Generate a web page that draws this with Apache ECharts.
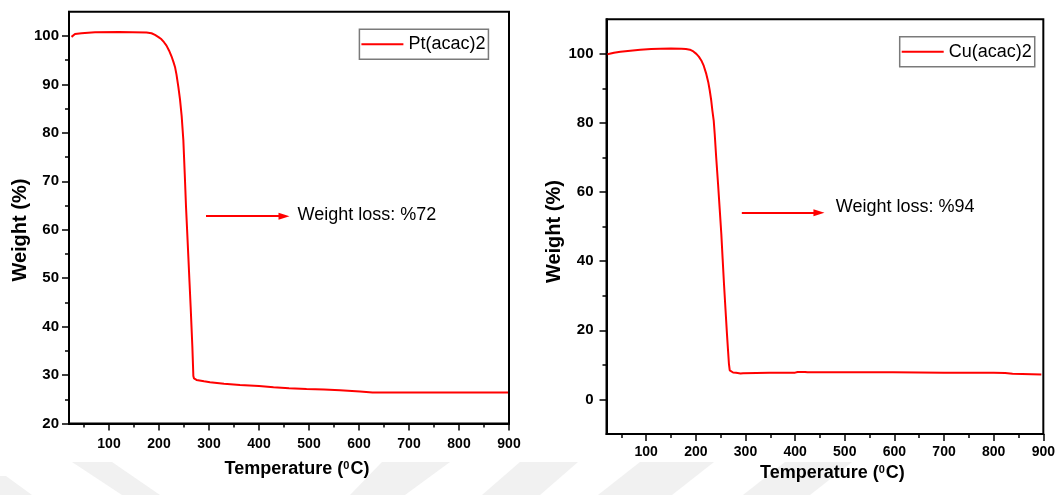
<!DOCTYPE html>
<html>
<head>
<meta charset="utf-8">
<title>TGA curves</title>
<script src="https://cdn.jsdelivr.net/npm/echarts@6/dist/echarts.min.js"></script>
<style>
  html, body { margin: 0; padding: 0; background: #ffffff; }
  #chart { width: 1058px; height: 495px; }
</style>
</head>
<body>
<div id="chart"></div>
<script>
// Thermogravimetric curve of Pt(acac)2: temperature (°C) and remaining weight (%)
const ptTemp = [25, 28, 32, 45, 72, 120, 175, 185, 192, 199, 205, 210, 215, 220, 225, 229, 232, 235,
  238.7, 242, 245.3, 248.7, 251.5, 254, 256.5, 258.7, 261, 263.3, 265, 266.7, 268, 268.7, 270, 275,
  290, 302, 330, 362, 400, 429, 460, 495, 530, 562, 602, 627, 700, 800, 898];
const ptWeight = [99.8, 100.2, 100.4, 100.55, 100.75, 100.8, 100.7, 100.55, 100.2, 99.75, 99.3, 98.7, 98.0, 97.0, 95.8, 94.6, 93.6, 92.0,
  89.5, 86.9, 83.5, 78.5, 71.5, 64.8, 59.3, 54.4, 49.2, 44.1, 40.0, 35.9, 32.0, 29.8, 29.3, 29.0,
  28.7, 28.5, 28.2, 27.95, 27.75, 27.5, 27.3, 27.1, 27.0, 26.85, 26.6, 26.4, 26.4, 26.4, 26.4];

// Thermogravimetric curve of Cu(acac)2
const cuTemp = [22, 35, 48, 68, 88, 110, 128, 150, 171, 180, 188, 195, 201, 206, 211, 216, 221, 225, 228,
  231, 233.3, 236, 238, 241, 244.7, 248, 251.3, 254, 256.7, 259.7, 262.7, 264.7, 266.7, 268.3, 270, 275,
  281, 290, 295, 348, 400, 405, 420, 425, 500, 597, 600, 700, 800, 823, 825, 838, 841, 896];
const cuWeight = [99.9, 100.3, 100.6, 100.9, 101.2, 101.4, 101.5, 101.55, 101.5, 101.4, 101.2, 100.7, 100.0, 99.2, 98.1, 96.5, 94.2, 91.8, 89.4,
  86.5, 83.6, 80.7, 76.8, 70.0, 62.4, 55.2, 47.9, 40.6, 33.4, 26.1, 18.9, 14.5, 10.2, 8.4, 8.0, 7.8,
  7.7, 7.5, 7.6, 7.7, 7.75, 7.95, 7.95, 7.85, 7.9, 7.9, 7.7, 7.7, 7.7, 7.65, 7.45, 7.45, 7.25, 7.25];

// Axis ticks
const tempTicks = [100, 200, 300, 400, 500, 600, 700, 800, 900];
const tempMinorTicks = [50, 150, 250, 350, 450, 550, 650, 750, 850];
const ptWeightTicks = [20, 30, 40, 50, 60, 70, 80, 90, 100];
const ptWeightMinorTicks = [25, 35, 45, 55, 65, 75, 85, 95];
const cuWeightTicks = [0, 20, 40, 60, 80, 100];
const cuWeightMinorTicks = [10, 30, 50, 70, 90];

// Series names and annotation texts
const ptName = 'Pt(acac)2';
const cuName = 'Cu(acac)2';
const ptLossText = 'Weight loss: %72';
const cuLossText = 'Weight loss: %94';

const FONT = "'Liberation Sans', Arial, Helvetica, sans-serif";
const RED = '#ff0000';
const BLACK = '#000000';

function pairs(xs, ys) {
  return xs.map((x, i) => [x, ys[i]]);
}

function majorX(gridIndex, labelMargin, nameGap, namePadLeft) {
  return {
    gridIndex, type: 'value', min: 20, max: 900, position: 'bottom',
    axisLine: { show: true, onZero: false, lineStyle: { color: BLACK, width: 2 } },
    axisTick: { show: true, customValues: tempTicks, length: 7, lineStyle: { color: BLACK, width: 1.5 } },
    axisLabel: { customValues: tempTicks, margin: labelMargin, color: BLACK, fontSize: 14, fontWeight: 'bold', fontFamily: FONT },
    splitLine: { show: false },
    name: 'Temperature ({sup|0}C)',
    nameLocation: 'middle',
    nameGap: nameGap,
    nameTextStyle: {
      fontSize: 18, fontWeight: 'bold', color: BLACK, fontFamily: FONT,
      padding: [0, 0, 0, namePadLeft],
      rich: { sup: { fontSize: 11, fontWeight: 'bold', color: BLACK, fontFamily: FONT, verticalAlign: 'top', padding: [0, 1, 0, 0] } }
    }
  };
}

function minorX(gridIndex) {
  return {
    gridIndex, type: 'value', min: 20, max: 900, position: 'bottom',
    axisLine: { show: false, onZero: false },
    axisTick: { show: true, customValues: tempMinorTicks, length: 4, lineStyle: { color: BLACK, width: 1.5 } },
    axisLabel: { show: false },
    splitLine: { show: false }
  };
}

function majorY(gridIndex, min, max, ticks, labelMargin, nameGap, namePadRight) {
  return {
    gridIndex, type: 'value', min, max, position: 'left',
    axisLine: { show: true, onZero: false, lineStyle: { color: BLACK, width: 2 } },
    axisTick: { show: true, customValues: ticks, length: 7, lineStyle: { color: BLACK, width: 1.5 } },
    axisLabel: { customValues: ticks, margin: labelMargin, color: BLACK, fontSize: 15, fontWeight: 'bold', fontFamily: FONT },
    splitLine: { show: false },
    name: 'Weight (%)',
    nameLocation: 'middle',
    nameGap: nameGap,
    nameTextStyle: { fontSize: 20, fontWeight: 'bold', color: BLACK, fontFamily: FONT, padding: [0, namePadRight, 0, 0] }
  };
}

function minorY(gridIndex, min, max, ticks) {
  return {
    gridIndex, type: 'value', min, max, position: 'left',
    axisLine: { show: false, onZero: false },
    axisTick: { show: true, customValues: ticks, length: 4, lineStyle: { color: BLACK, width: 1.5 } },
    axisLabel: { show: false },
    splitLine: { show: false }
  };
}

function tgaSeries(name, xIdx, yIdx, data, arrowFrom, arrowTo, textAt, text) {
  return {
    type: 'line', name, xAxisIndex: xIdx, yAxisIndex: yIdx, data,
    symbol: 'none', smooth: false, animation: false,
    lineStyle: { color: RED, width: 2 },
    itemStyle: { color: RED },
    markLine: {
      silent: true, animation: false,
      symbol: ['none', 'triangle'], symbolSize: [7, 11],
      lineStyle: { color: RED, width: 2, type: 'solid' },
      label: { show: false },
      data: [[{ coord: arrowFrom }, { coord: arrowTo }]]
    },
    markPoint: {
      silent: true, animation: false,
      symbol: 'circle', symbolSize: 0,
      label: { show: true, position: 'right', distance: 0, formatter: text, color: BLACK, fontSize: 18, fontFamily: FONT },
      data: [{ coord: textAt }]
    }
  };
}

function legendBox(name, left, top) {
  return {
    data: [{ name, icon: 'rect' }], left, top, orient: 'horizontal', selectedMode: false,
    itemWidth: 42, itemHeight: 2,
    itemStyle: { color: RED, borderWidth: 0 },
    padding: [6, 3, 6, 2],
    borderColor: '#7a7a7a', borderWidth: 1.5,
    textStyle: { fontSize: 18, color: BLACK, fontFamily: FONT }
  };
}

// Faint chevron pattern along the bottom edge of the page
const shade = '#f1f1f1';
const chevrons = [
  [[0, 476], [6, 476], [32, 495], [0, 495]],
  [[72, 462], [112, 462], [160, 495], [122, 495]],
  [[382, 462], [450, 462], [405, 495], [350, 495]],
  [[520, 462], [578, 462], [540, 495], [482, 495]],
  [[640, 462], [714, 462], [672, 495], [598, 495]],
  [[785, 462], [852, 462], [810, 495], [743, 495]]
].map(points => ({
  type: 'polygon', silent: true, z: -10,
  shape: { points },
  style: { fill: shade }
}));

const chart = echarts.init(document.getElementById('chart'), null, { renderer: 'canvas' });

chart.setOption({
  backgroundColor: '#ffffff',
  animation: false,
  graphic: chevrons,
  grid: [
    { left: 69, top: 11.7, width: 440, height: 411.8, show: true, borderColor: BLACK, borderWidth: 2, backgroundColor: 'transparent' },
    { left: 606.5, top: 19.3, width: 439.5, height: 414.7, show: true, borderColor: BLACK, borderWidth: 2, backgroundColor: 'transparent' }
  ],
  legend: [
    legendBox(ptName, 359.4, 29.3),
    legendBox(cuName, 899.7, 36.7)
  ],
  xAxis: [
    majorX(0, 14, 37, 16),
    minorX(0),
    majorX(1, 11.5, 30, 15),
    minorX(1)
  ],
  yAxis: [
    majorY(0, 20, 105, ptWeightTicks, 10, 39, 25),
    minorY(0, 20, 105, ptWeightMinorTicks),
    majorY(1, -10, 110, cuWeightTicks, 13, 42, 10),
    minorY(1, -10, 110, cuWeightMinorTicks)
  ],
  series: [
    tgaSeries(ptName, 0, 0, pairs(ptTemp, ptWeight), [294, 62.8], [450, 62.8], [477, 63.0], ptLossText),
    tgaSeries(cuName, 2, 2, pairs(cuTemp, cuWeight), [292.6, 54.0], [448, 54.0], [482, 55.6], cuLossText)
  ]
});
</script>
</body>
</html>
